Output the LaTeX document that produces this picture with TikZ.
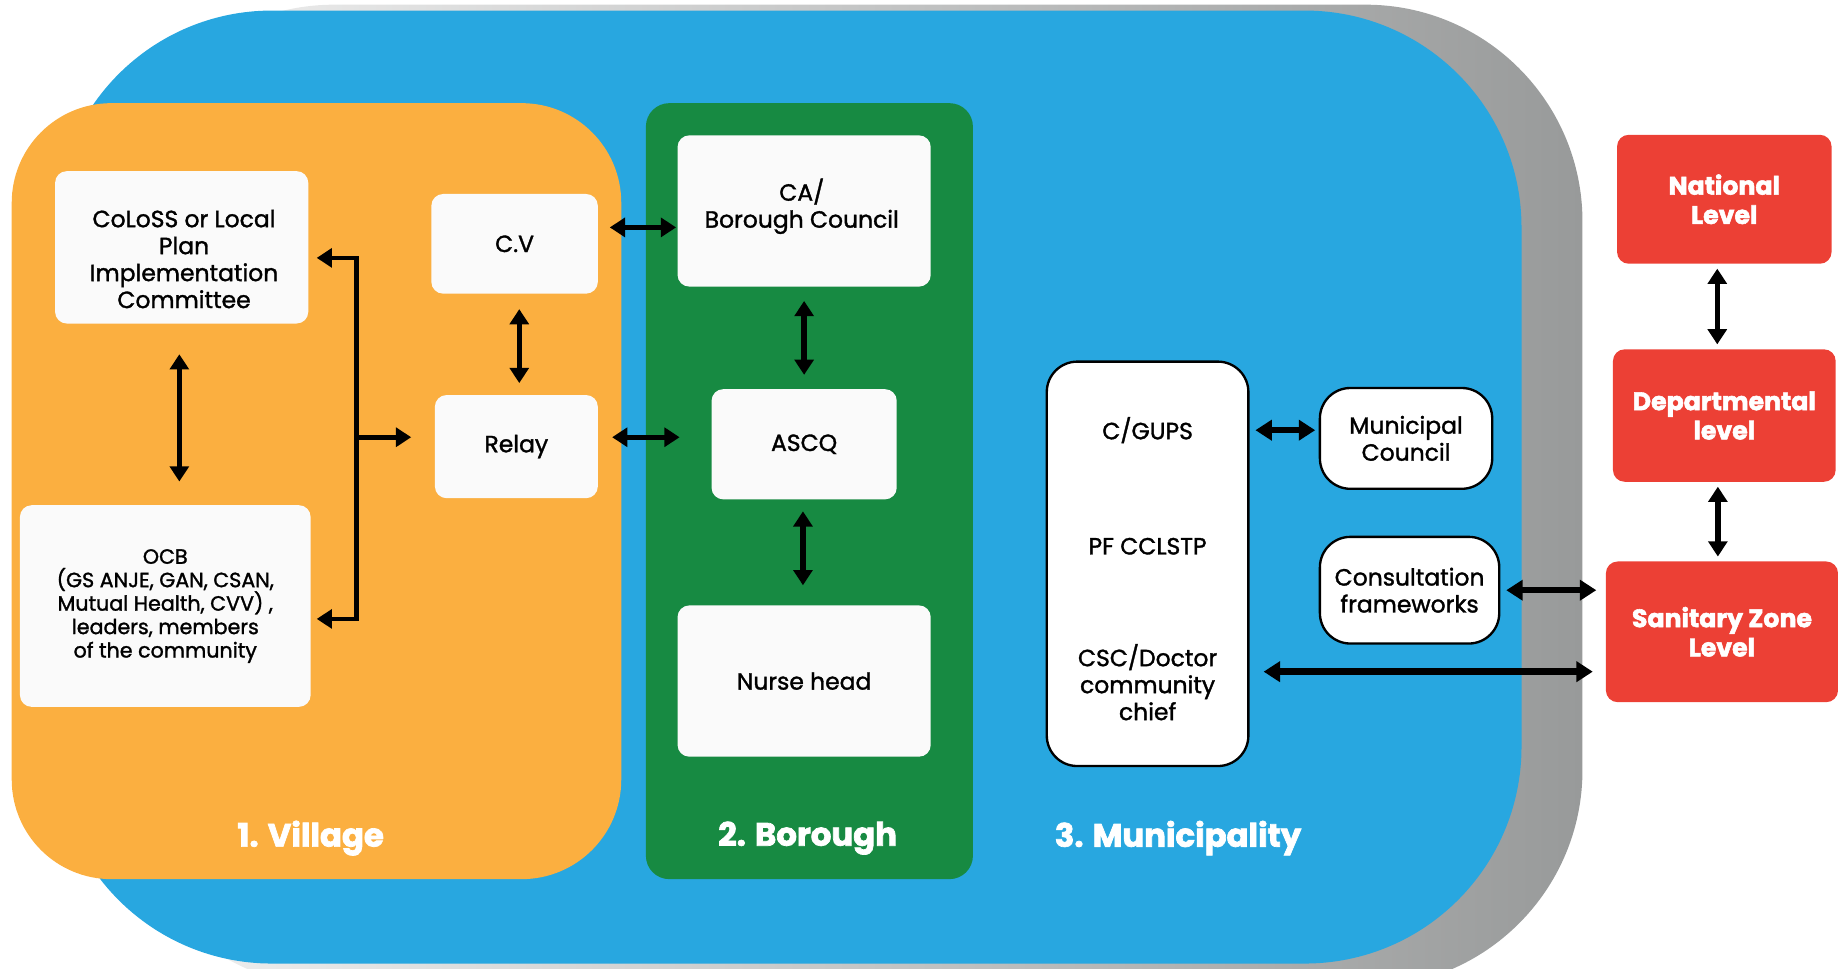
\documentclass[tikz,border=0pt]{standalone}
\usepackage{fontspec}
\setmainfont{Poppins}[RawFeature={embolden=1.4}]
\newfontfamily\heavyfont{Poppins}[BoldFeatures={RawFeature={embolden=2.2}}]
\usetikzlibrary{arrows.meta,calc}
\definecolor{bluebg}{RGB}{40,167,224}
\definecolor{orangebg}{RGB}{251,175,64}
\definecolor{greenbg}{RGB}{23,138,66}
\definecolor{redbox}{RGB}{236,64,53}
\definecolor{boxwhite}{RGB}{250,250,250}
\definecolor{shadowdark}{RGB}{152,154,154}
\definecolor{shadowlight}{RGB}{242,242,242}
\begin{document}
\begin{tikzpicture}[x=1pt,y=-1pt,
  wbox/.style={fill=boxwhite, rounded corners=10pt, inner sep=2pt, align=center,
    font=\fontsize{20}{23}\selectfont},
  smallbox/.style={wbox, font=\fontsize{17.6}{20}\selectfont},
  btext/.style={align=center, inner sep=0pt, font=\fontsize{20}{23}\selectfont},
  obox/.style={fill=white, draw=black, line width=2pt, rounded corners=26pt, align=center,
    inner sep=2pt, font=\fontsize{20}{23}\selectfont},
  rbox/.style={fill=redbox, rounded corners=10pt, text=white, align=center, inner sep=2pt,
    font=\heavyfont\bfseries\fontsize{21.5}{25}\selectfont},
  zlabel/.style={text=white, inner sep=0pt, font=\heavyfont\bfseries\fontsize{27.6}{30}\selectfont},
  biarrow/.style={{Triangle[width=16pt,length=13pt]}-{Triangle[width=16pt,length=13pt]}, line width=4.5pt},
  bigarrow/.style={{Triangle[width=17pt,length=14pt]}-{Triangle[width=17pt,length=14pt]}, line width=5.5pt},
  brk/.style={line width=4pt, line join=miter},
]
\useasboundingbox (0,0) rectangle (1568,826);
\clip (0,0) rectangle (1568,826);

% background shapes
\path[left color=shadowlight, right color=shadowdark, rounded corners=185pt]
  (100,4) rectangle (1350,842);
\fill[bluebg, rounded corners=185pt] (47,9) rectangle (1298,822);
\fill[orangebg, rounded corners=85pt] (10,88) rectangle (530,750);
\fill[greenbg, rounded corners=20pt] (551,88) rectangle (830,750);

% village
\node[wbox, minimum width=216pt, minimum height=130pt] (coloss) at (155,211) {};
\node[btext] (colosst) at ($(coloss.center)+(2,10)$)
  {CoLoSS or Local\\Plan\\Implementation\\Committee};
\node[smallbox, minimum width=248pt, minimum height=172pt] (ocb) at (141,517)
  {OCB\\(GS ANJE, GAN, CSAN,\\Mutual Health, CVV) ,\\leaders, members\\of the community};
\node[wbox, minimum width=142pt, minimum height=85pt] (cv) at (439,208) {C.V};
\node[wbox, minimum width=139pt, minimum height=88pt] (relay) at (440.5,381) {Relay};

% borough
\node[wbox, minimum width=216pt, minimum height=129pt] (ca) at (686,180) {};
\node[btext] (cat) at ($(ca.center)+(-2,-4)$) {CA/\\Borough Council};
\node[wbox, minimum width=158pt, minimum height=94pt] (ascq) at (686,379) {ASCQ};
\node[wbox, minimum width=216pt, minimum height=129pt] (nurse) at (686,581) {Nurse head};

% municipality
\node[obox, minimum width=172pt, minimum height=345pt] (gups) at (979,481) {};
\node[btext] (gupst) at ($(gups.center)+(0,-114)$) {C/GUPS};
\node[btext] (pf) at ($(gups.center)+(0,-15)$) {PF CCLSTP};
\node[btext] (csc) at ($(gups.center)+(0,101)$) {CSC/Doctor\\community\\chief};
\node[obox, minimum width=147pt, minimum height=86pt] (muni) at (1199.5,374) {Municipal\\Council};
\node[obox, minimum width=153pt, minimum height=91pt] (consult) at (1202.5,503.5) {Consultation\\frameworks};

% levels
\node[rbox, minimum width=183pt, minimum height=110pt] (national) at (1471,170) {National\\Level};
\node[rbox, minimum width=190pt, minimum height=113pt] (dept) at (1471,354.5) {Departmental\\level};
\node[rbox, minimum width=198pt, minimum height=120pt] (sanitary) at (1469,539) {Sanitary Zone\\Level};

% zone labels
\node[zlabel] (l1) at (265,715) {1. Village};
\node[zlabel] (l2) at (689,715) {2. Borough};
\node[zlabel] (l3) at (1005,715) {3. Municipality};

% arrows village
\draw[biarrow] ($(coloss.south)+(-2,26)$) -- ($(coloss.south |- ocb.north)+(-2,-20)$);
\draw[brk, {Triangle[width=16pt,length=13pt]}-{Triangle[width=16pt,length=13pt]}]
  ($(coloss.east)+(7,9)$) -| ($(ocb.east)+(39,11)$) -- ($(ocb.east)+(5,11)$);
\coordinate (bmid) at ($(relay.west)+(-67,-8)$);
\draw[brk, -{Triangle[width=16pt,length=13pt]}] (bmid) -- ($(relay.west)+(-20,-8)$);
\draw[biarrow] ($(cv.south)+(4,13)$) -- ($(cv.south |- relay.north)+(4,-10)$);
\draw[biarrow] ($(cv.east)+(10,-14)$) -- ($(ca.west |- cv.east)+(-1,-14)$);
\draw[biarrow] ($(relay.east)+(12,-8)$) -- ($(ascq.west |- relay.east)+(-27,-8)$);

% arrows borough
\draw[biarrow] ($(ca.south)+(0,12)$) -- ($(ascq.north)+(0,-12)$);
\draw[biarrow] ($(ascq.south)+(-1,10)$) -- ($(nurse.north)+(-1,-17)$);

% arrows municipality
\draw[bigarrow] ($(gups.east |- muni.west)+(5,-7)$) -- ($(muni.west)+(-3,-7)$);
\draw[bigarrow] ($(consult.east)+(5,0)$) -- ($(sanitary.west |- consult.east)+(-8,0)$);
\draw[bigarrow] ($(gups.east |- sanitary.west)+(12,34)$) -- ($(sanitary.west)+(-11,34)$);

% arrows levels
\draw[biarrow] ($(national.south)+(-6,4)$) -- ($(national.south |- dept.north)+(-6,-4)$);
\draw[biarrow] ($(dept.south)+(-5.5,4)$) -- ($(dept.south |- sanitary.north)+(-5.5,-4)$);
\end{tikzpicture}
\end{document}
